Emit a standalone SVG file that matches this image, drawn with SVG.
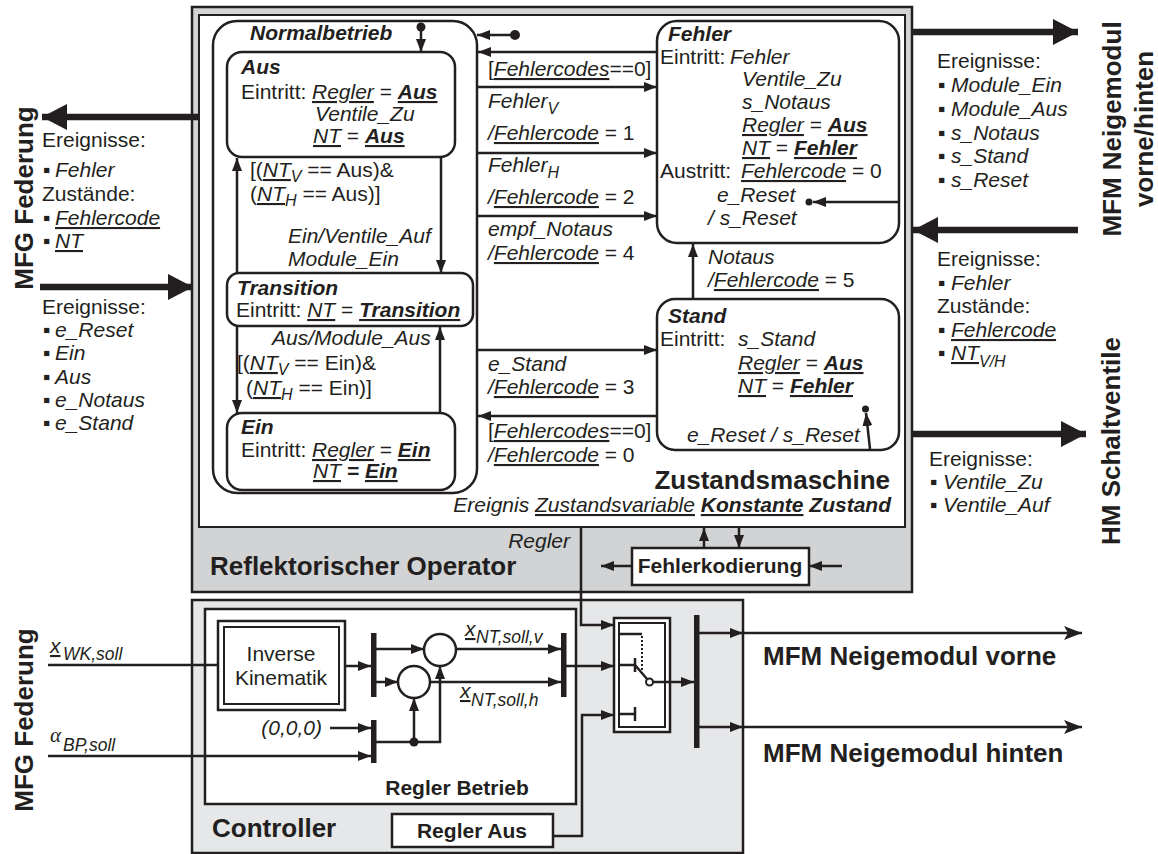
<svg xmlns="http://www.w3.org/2000/svg" width="1158" height="854" viewBox="0 0 1158 854">
<defs>
<style>
text{font-family:"Liberation Sans",Arial,Helvetica,sans-serif;font-size:21px;fill:#231f20}
.i{font-style:italic}
.b{font-weight:bold}
.u{text-decoration:underline}
.h{font-size:26px;font-weight:bold}
.s{font-size:16px}
.ss{font-size:17.5px}
.greek{font-family:"Liberation Serif","Times New Roman",serif;font-style:italic;font-size:21px}
.ln{fill:none;stroke:#231f20;stroke-width:2.5}
.thick{fill:none;stroke:#231f20;stroke-width:6.5}
.box{fill:#fff;stroke:#231f20;stroke-width:2.5}
.a{marker-end:url(#ah)}
.A{marker-end:url(#big)}
.o{marker-end:url(#out)}
.dot{fill:#231f20}
.bar{fill:#231f20}
</style>
<marker id="ah" viewBox="0 0 13 10" refX="13" refY="5" markerWidth="13" markerHeight="10" markerUnits="userSpaceOnUse" orient="auto">
<path d="M0,0 L13,5 L0,10 z" fill="#231f20"/>
</marker>
<marker id="big" viewBox="0 0 25 26" refX="25" refY="13" markerWidth="25" markerHeight="26" markerUnits="userSpaceOnUse" orient="auto">
<path d="M0,0 L25,13 L0,26 z" fill="#231f20"/>
</marker>
<marker id="out" viewBox="0 0 18 14" refX="18" refY="7" markerWidth="18" markerHeight="14" markerUnits="userSpaceOnUse" orient="auto">
<path d="M0,0 L18,7 L0,14 L4,7 z" fill="#231f20"/>
</marker>
</defs>

<!-- Reflektorischer Operator: grey frame with white state-machine area -->
<g id="reflektorischer-operator">
<rect x="192" y="7" width="720" height="585" fill="#d1d3d4" stroke="#231f20" stroke-width="2.5"/>
<rect x="199" y="15" width="706" height="512" fill="#fff" stroke="#231f20" stroke-width="2"/>
<text class="h" x="210" y="575">Reflektorischer Operator</text>
<text class="i" x="570" y="548" text-anchor="end">Regler</text>
<text class="h" x="890" y="489" text-anchor="end">Zustandsmaschine</text>
<text x="891" y="512" text-anchor="end"><tspan class="i">Ereignis </tspan><tspan class="i u">Zustandsvariable</tspan><tspan>  </tspan><tspan class="b i u">Konstante</tspan><tspan class="b i"> Zustand</tspan></text>
</g>

<!-- Controller -->
<g id="controller">
<rect x="192" y="600" width="551" height="253" fill="#e6e7e8" stroke="#231f20" stroke-width="2.5"/>
<text class="h" x="212" y="837">Controller</text>
</g>

<g id="regler-betrieb">
<rect x="205" y="609" width="371" height="195" class="box"/>
<text class="b" x="457" y="795" text-anchor="middle">Regler Betrieb</text>
</g>

<g id="regler-aus">
<rect x="392" y="814" width="161" height="33" class="box"/>
<text class="b" x="472" y="838" text-anchor="middle">Regler Aus</text>
</g>

<g id="inverse-kinematik">
<rect x="218" y="621" width="127" height="89" class="box"/>
<rect x="224" y="627" width="115" height="77" fill="none" stroke="#231f20" stroke-width="2"/>
<text x="281" y="661" text-anchor="middle">Inverse</text>
<text x="281" y="685" text-anchor="middle">Kinematik</text>
</g>

<g id="summen">
<circle cx="440" cy="650" r="16" class="box"/>
<circle cx="414" cy="682" r="16" class="box"/>
</g>

<g id="busse">
<rect x="371" y="633" width="5.5" height="64" class="bar"/>
<rect x="371" y="720" width="5.5" height="43" class="bar"/>
<rect x="561" y="633" width="5.5" height="64" class="bar"/>
<rect x="694" y="615" width="5.5" height="133" class="bar"/>
</g>

<g id="umschalter">
<rect x="614" y="618" width="56" height="114" class="box"/>
<rect x="619" y="623" width="46" height="104" fill="none" stroke="#231f20" stroke-width="2"/>
<path d="M619,634 H642" class="ln"/>
<path d="M642,636 V674" fill="none" stroke="#231f20" stroke-width="2" stroke-dasharray="2,2"/>
<path d="M619,665 H635 M635,658 V672 M635,665 L647,679" class="ln"/>
<circle cx="649.5" cy="682" r="3.5" fill="#fff" stroke="#231f20" stroke-width="2"/>
<path d="M619,714 H635 M635,707 V721" class="ln"/>
</g>

<g id="fehlerkodierung">
<rect x="632" y="548" width="177" height="37" class="box"/>
<text class="b" x="720" y="573" text-anchor="middle">Fehlerkodierung</text>
</g>

<!-- States -->
<g id="normalbetrieb">
<rect x="213" y="21" width="264" height="472" rx="24" fill="none" stroke="#231f20" stroke-width="2.5"/>
<text class="b i" x="250" y="40">Normalbetrieb</text>
</g>

<g id="state-aus">
<rect x="227" y="52" width="228" height="105" rx="15" class="box"/>
<text class="b i" x="241" y="74">Aus</text>
<text x="241" y="99">Eintritt:</text>
<text x="312" y="99"><tspan class="i u">Regler</tspan> = <tspan class="b i u">Aus</tspan></text>
<text class="i" x="315" y="121">Ventile_Zu</text>
<text x="313" y="143"><tspan class="i u">NT</tspan> = <tspan class="b i u">Aus</tspan></text>
</g>

<g id="state-transition">
<rect x="227" y="273" width="246" height="53" rx="12" class="box"/>
<text class="b i" x="237" y="295">Transition</text>
<text x="236" y="317">Eintritt: <tspan class="i u">NT</tspan> = <tspan class="b i u">Transition</tspan></text>
</g>

<g id="state-ein">
<rect x="227" y="413" width="228" height="77" rx="15" class="box"/>
<text class="b i" x="241" y="434">Ein</text>
<text x="241" y="457">Eintritt:</text>
<text x="312" y="457"><tspan class="i u">Regler</tspan> = <tspan class="b i u">Ein</tspan></text>
<text x="313" y="478"><tspan class="i u">NT</tspan><tspan class="b i"> = </tspan><tspan class="b i u">Ein</tspan></text>
</g>

<g id="state-fehler">
<rect x="657" y="21" width="242" height="222" rx="20" class="box"/>
<text class="b i" x="668" y="41">Fehler</text>
<text x="660" y="64">Eintritt:</text>
<text class="i" x="730" y="64">Fehler</text>
<text class="i" x="742" y="86">Ventile_Zu</text>
<text class="i" x="742" y="109">s_Notaus</text>
<text x="742" y="132"><tspan class="i u">Regler</tspan> = <tspan class="b i u">Aus</tspan></text>
<text x="742" y="155"><tspan class="i u">NT</tspan> = <tspan class="b i u">Fehler</tspan></text>
<text x="660" y="178">Austritt:</text>
<text x="741" y="178"><tspan class="i u">Fehlercode</tspan> = 0</text>
<text class="i" x="717" y="202">e_Reset</text>
<text class="i" x="708" y="225">/ s_Reset</text>
</g>

<g id="state-stand">
<rect x="657" y="299" width="242" height="151" rx="18" class="box"/>
<text class="b i" x="668" y="323">Stand</text>
<text x="660" y="346">Eintritt:</text>
<text class="i" x="738" y="346">s_Stand</text>
<text x="738" y="370"><tspan class="i u">Regler</tspan> = <tspan class="b i u">Aus</tspan></text>
<text x="738" y="393"><tspan class="i u">NT</tspan> = <tspan class="b i u">Fehler</tspan></text>
<text class="i" x="687" y="442">e_Reset / s_Reset</text>
</g>

<!-- Transition labels -->
<g id="transition-labels">
<text x="250" y="177">[(<tspan class="i u">NT</tspan><tspan class="i s" dy="5">V</tspan><tspan dy="-5"> == Aus)&amp;</tspan></text>
<text x="250" y="201">(<tspan class="i u">NT</tspan><tspan class="i s" dy="5">H</tspan><tspan dy="-5"> == Aus)]</tspan></text>
<text class="i" x="288" y="243">Ein/Ventile_Auf</text>
<text class="i" x="288" y="266">Module_Ein</text>
<text class="i" x="272" y="345">Aus/Module_Aus</text>
<text x="237" y="370">[(<tspan class="i u">NT</tspan><tspan class="i s" dy="5">V</tspan><tspan dy="-5"> == Ein)&amp;</tspan></text>
<text x="246" y="395">(<tspan class="i u">NT</tspan><tspan class="i s" dy="5">H</tspan><tspan dy="-5"> == Ein)]</tspan></text>

<text x="488" y="76">[<tspan class="i u">Fehlercodes</tspan>==0]</text>
<text class="i" x="488" y="108">Fehler<tspan class="s" dy="6">V</tspan></text>
<text x="488" y="140"><tspan class="i">/</tspan><tspan class="i u">Fehlercode</tspan> = 1</text>
<text class="i" x="488" y="172">Fehler<tspan class="s" dy="6">H</tspan></text>
<text x="488" y="204"><tspan class="i">/</tspan><tspan class="i u">Fehlercode</tspan> = 2</text>
<text class="i" x="488" y="236">empf_Notaus</text>
<text x="488" y="260"><tspan class="i">/</tspan><tspan class="i u">Fehlercode</tspan> = 4</text>
<text class="i" x="708" y="264">Notaus</text>
<text x="708" y="287"><tspan class="i">/</tspan><tspan class="i u">Fehlercode</tspan> = 5</text>
<text class="i" x="488" y="371">e_Stand</text>
<text x="488" y="394"><tspan class="i">/</tspan><tspan class="i u">Fehlercode</tspan> = 3</text>
<text x="488" y="438">[<tspan class="i u">Fehlercodes</tspan>==0]</text>
<text x="488" y="462"><tspan class="i">/</tspan><tspan class="i u">Fehlercode</tspan> = 0</text>
</g>

<!-- Signal labels in the controller -->
<g id="signal-labels">
<text class="i" x="50" y="653"><tspan class="u">x</tspan><tspan class="ss" x="63" dy="7">WK,soll</tspan></text>
<text class="greek" x="50" y="742">α</text>
<text class="i ss" x="63" y="751">BP,soll</text>
<text class="i" x="322" y="735" text-anchor="end">(0,0,0)</text>
<text class="i" x="465" y="636"><tspan class="u">x</tspan><tspan class="ss" x="476" dy="7">NT,soll,v</tspan></text>
<text class="i" x="460" y="698"><tspan class="u">x</tspan><tspan class="ss" x="471" dy="8">NT,soll,h</tspan></text>
</g>

<!-- Interfaces outside the operator -->
<g id="mfg-federung">
<text class="h" transform="translate(33,198) rotate(-90)" text-anchor="middle">MFG Federung</text>
<text x="42" y="147">Ereignisse:</text>
<text x="43" y="177">▪<tspan x="55" class="i">Fehler</tspan></text>
<text x="42" y="201">Zustände:</text>
<text x="43" y="225">▪<tspan x="55" class="i u">Fehlercode</tspan></text>
<text x="43" y="248">▪<tspan x="55" class="i u">NT</tspan></text>
<text x="42" y="314">Ereignisse:</text>
<text x="43" y="337">▪<tspan x="55" class="i">e_Reset</tspan></text>
<text x="43" y="360">▪<tspan x="55" class="i">Ein</tspan></text>
<text x="43" y="384">▪<tspan x="55" class="i">Aus</tspan></text>
<text x="43" y="407">▪<tspan x="55" class="i">e_Notaus</tspan></text>
<text x="43" y="430">▪<tspan x="55" class="i">e_Stand</tspan></text>
</g>

<g id="mfg-federung-controller">
<text class="h" transform="translate(33,720) rotate(-90)" text-anchor="middle">MFG Federung</text>
</g>

<g id="mfm-neigemodul">
<text class="h" transform="translate(1121,129) rotate(-90)" text-anchor="middle">MFM Neigemodul</text>
<text class="h" transform="translate(1153,129) rotate(-90)" text-anchor="middle">vorne/hinten</text>
<text x="937" y="68">Ereignisse:</text>
<text x="938" y="92">▪<tspan x="951" class="i">Module_Ein</tspan></text>
<text x="938" y="116">▪<tspan x="951" class="i">Module_Aus</tspan></text>
<text x="938" y="140">▪<tspan x="951" class="i">s_Notaus</tspan></text>
<text x="938" y="163">▪<tspan x="951" class="i">s_Stand</tspan></text>
<text x="938" y="187">▪<tspan x="951" class="i">s_Reset</tspan></text>
<text x="937" y="266">Ereignisse:</text>
<text x="938" y="290">▪<tspan x="951" class="i">Fehler</tspan></text>
<text x="937" y="313">Zustände:</text>
<text x="938" y="337">▪<tspan x="951" class="i u">Fehlercode</tspan></text>
<text x="938" y="360">▪<tspan x="951" class="i u">NT</tspan><tspan class="i s" dy="7">V/H</tspan></text>
</g>

<g id="hm-schaltventile">
<text class="h" transform="translate(1120,441) rotate(-90)" text-anchor="middle">HM Schaltventile</text>
<text x="929" y="466">Ereignisse:</text>
<text x="930" y="489">▪<tspan x="943" class="i">Ventile_Zu</tspan></text>
<text x="930" y="512">▪<tspan x="943" class="i">Ventile_Auf</tspan></text>
</g>

<g id="mfm-ausgaenge">
<text class="h" x="763" y="665">MFM Neigemodul vorne</text>
<text class="h" x="763" y="762">MFM Neigemodul hinten</text>
</g>

<!-- Connectors -->
<g id="connectors">
<!-- state machine -->
<circle cx="421" cy="27" r="4.5" class="dot"/>
<path d="M421,30 V52" class="ln a"/>
<circle cx="515" cy="35" r="5" class="dot"/>
<path d="M511,35 H477" class="ln a"/>
<path d="M657,52 H478" class="ln a"/>
<path d="M477,87 H657" class="ln a"/>
<path d="M477,153 H657" class="ln a"/>
<path d="M477,216 H657" class="ln a"/>
<path d="M693,299 V244" class="ln a"/>
<path d="M477,350 H657" class="ln a"/>
<path d="M657,416 H478" class="ln a"/>
<path d="M441,157 V273" class="ln a"/>
<path d="M237,273 V158" class="ln a"/>
<path d="M237,326 V413" class="ln a"/>
<path d="M440,413 V327" class="ln a"/>
<path d="M898,202 H813" class="ln a"/>
<circle cx="809" cy="202" r="3.5" class="dot"/>
<path d="M870,449 L866,413" class="ln a"/>
<circle cx="865.5" cy="409" r="3.5" class="dot"/>
<!-- Fehlerkodierung -->
<path d="M704,548 V528" class="ln a"/>
<path d="M739,527 V548" class="ln a"/>
<path d="M632,566 H601" class="ln a"/>
<path d="M842,566 H809" class="ln a"/>
<!-- external interfaces -->
<path d="M199,117 H42" class="thick A"/>
<path d="M40,287 H193" class="thick A"/>
<path d="M912,32 H1078" class="thick A"/>
<path d="M1078,230 H913" class="thick A"/>
<path d="M912,434 H1086" class="thick A"/>
<!-- controller signal flow -->
<path d="M48,665 H218" class="ln"/>
<path d="M345,666 H371" class="ln a"/>
<path d="M376,649 H424" class="ln a"/>
<path d="M376,682 H398" class="ln a"/>
<path d="M330,728 H371" class="ln a"/>
<path d="M48,756 H371" class="ln a"/>
<path d="M376,742 H440 V666" class="ln a"/>
<path d="M414,742 V698" class="ln a"/>
<circle cx="414" cy="742" r="4.5" class="dot"/>
<path d="M456,649 H561" class="ln a"/>
<path d="M430,682 H561" class="ln a"/>
<path d="M566,666 H614" class="ln a"/>
<path d="M581,527 V625 H614" class="ln a"/>
<path d="M553,836 H582 V715 H614" class="ln a"/>
<path d="M653,682 H694" class="ln a"/>
<path d="M699,633 H743" class="ln a"/>
<path d="M743,633 H1082" class="ln o"/>
<path d="M699,727 H743" class="ln a"/>
<path d="M743,727 H1082" class="ln o"/>
</g>
</svg>
